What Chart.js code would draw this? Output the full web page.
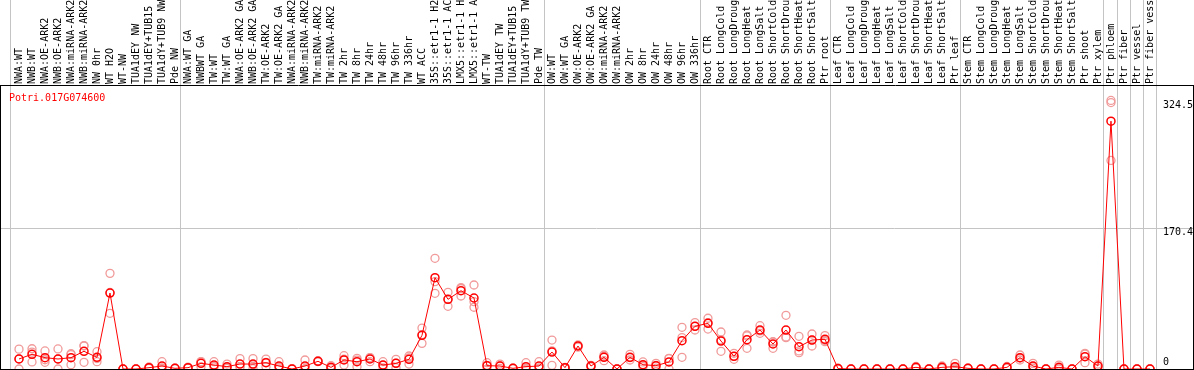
<!DOCTYPE html>
<html>
<head>
<meta charset="utf-8">
<script src="https://cdn.jsdelivr.net/npm/chart.js@4/dist/chart.umd.min.js"></script>
<style>
  html, body { margin: 0; padding: 0; background: #fff; }
  #wrap { width: 1194px; height: 370px; }
</style>
</head>
<body>
<div id="wrap"><canvas id="expr"></canvas></div>
<script>
// expression profile, mean + replicates per sample
const geneName = 'Potri.017G074600';

const categories = [
  'NWA:WT', 'NWB:WT', 'NWA:OE-ARK2', 'NWB:OE-ARK2', 'NWA:miRNA-ARK2', 'NWB:miRNA-ARK2', 'NW 0hr', 'WT H2O', 'WT-NW',
  'TUA1dEY NW', 'TUA1dEY+TUB15', 'TUA1dY+TUB9 NW', 'Pde NW',
  'NWA:WT GA', 'NWBWT GA', 'TW:WT', 'TW:WT GA', 'NWA:OE-ARK2 GA', 'NWB:OE-ARK2 GA', 'TW:OE-ARK2', 'TW:OE-ARK2 GA',
  'NWA:miRNA-ARK2', 'NWB:miRNA-ARK2', 'TW:miRNA-ARK2', 'TW:miRNA-ARK2', 'TW 2hr', 'TW 8hr', 'TW 24hr', 'TW 48hr',
  'TW 96hr', 'TW 336hr', 'WT ACC', '35S::etr1-1 H2O', '35S::etr1-1 ACC', 'LMX5::etr1-1 H2O', 'LMX5::etr1-1 ACC',
  'WT-TW', 'TUA1dEY TW', 'TUA1dEY+TUB15', 'TUA1dY+TUB9 TW', 'Pde TW',
  'OW:WT', 'OW:WT GA', 'OW:OE-ARK2', 'OW:OE-ARK2 GA', 'OW:miRNA-ARK2', 'OW:miRNA-ARK2', 'OW 2hr', 'OW 8hr',
  'OW 24hr', 'OW 48hr', 'OW 96hr', 'OW 336hr',
  'Root CTR', 'Root LongCold', 'Root LongDrought', 'Root LongHeat', 'Root LongSalt', 'Root ShortCold',
  'Root ShortDrought', 'Root ShortHeat', 'Root ShortSalt', 'Ptr root',
  'Leaf CTR', 'Leaf LongCold', 'Leaf LongDrought', 'Leaf LongHeat', 'Leaf LongSalt', 'Leaf ShortCold',
  'Leaf ShortDrought', 'Leaf ShortHeat', 'Leaf ShortSalt', 'Ptr leaf',
  'Stem CTR', 'Stem LongCold', 'Stem LongDrought', 'Stem LongHeat', 'Stem LongSalt', 'Stem ShortCold',
  'Stem ShortDrought', 'Stem ShortHeat', 'Stem ShortSalt', 'Ptr shoot', 'Ptr xylem',
  'Ptr phloem', 'Ptr fiber', 'Ptr vessel', 'Ptr fiber vessel'
];

const meanValues = [
  12.1, 17.8, 13.7, 12.1, 13.7, 21.4, 14.1, 91.8, 0, 0, 1.6, 3.6, 0.8,
  1.6, 6.8, 4.8, 2.8, 6.0, 6.0, 7.6, 3.6, 0, 3.6, 9.3, 2.0, 10.9, 8.8, 12.1, 4.8, 6.8, 11.7, 40.7,
  110.3, 84.2, 94.6, 85.8, 4.0, 3.6, 0.8, 2.8, 3.6,
  20.5, 1.6, 27.8, 3.6, 14.1, 0, 14.1, 5.2, 4.0, 8.5, 34.2, 51.6,
  55.2, 33.8, 15.3, 35.4, 47.1, 30.2, 47.1, 27.0, 35.0, 35.9,
  0.5, 0, 0, 0, 0, 0, 2.0, 0, 2.0, 2.8,
  0.8, 0, 0, 2.0, 13.7, 3.6, 0, 2.0, 0, 14.9, 3.6,
  299.5, 0, 0, 0
];

const rep1 = [
  24, 24.5, 21.8, 24.2, 18.5, 27.8, 20.9, 115.6, 0, 0, 2.5, 8.8, 1.2,
  2.2, 8.8, 8.8, 6.0, 12.5, 12.5, 12, 8.8, 0.5, 10.9, 10, 4, 16.1, 12.9, 13.7, 8.8, 11.7, 15.7, 49.5,
  133.8, 92.7, 98.3, 101.5, 7.6, 6, 1.2, 7.6, 8.8,
  35, 2, 29, 4.5, 16.9, 0, 17.7, 8.5, 6.8, 12.9, 50.4, 56,
  61.3, 44.7, 19, 41.1, 52.3, 33, 64.9, 39.5, 42.3, 40.3,
  1, 0, 0, 0, 0, 0, 3, 0, 3.6, 6.8,
  1.2, 0, 0, 3, 16.9, 6.8, 0, 4.8, 0, 19, 6,
  324.5, 0, 0, 0
];

const rep2 = [
  12.3, 20.4, 11.2, 12.1, 17.4, 28.3, 12.6, 92.5, 0, 0, 1.5, 1.2, 0.8,
  1.5, 8.9, 2.9, 1.6, 2.8, 5, 8, 2, 0, 0, 9, 1.5, 11.8, 10.7, 13.8, 4.4, 7.1, 13.4, 41.6,
  105.6, 84.1, 97.3, 81.3, 4.4, 4, 0.8, 0.8, 1,
  22, 1.5, 28, 3.6, 15.4, 0, 13.7, 4.3, 4.2, 12.6, 38, 51.6,
  56, 35.3, 15.2, 40, 46, 32.6, 38.7, 21.8, 35, 34.4,
  0.5, 0, 0, 0, 0, 0, 2, 0, 1.5, 1.6,
  0.8, 0, 0, 2, 13.3, 3, 0, 1.2, 0, 18, 3.8,
  322, 0, 0, 0
];

const rep3 = [
  0, 8.5, 8.1, 0, 5.2, 8.1, 8.8, 67.3, 0, 0, 0.8, 0.8, 0.4,
  1.1, 2.8, 2.8, 0.8, 2.8, 0.5, 2.8, 0, 0, 0, 9, 0.5, 4.8, 2.8, 8.8, 1.2, 1.6, 6, 31,
  91.5, 75.8, 88.2, 74.6, 0, 0.8, 0.4, 0, 1,
  4.4, 1.2, 26.4, 2.7, 10, 0, 10.9, 2.8, 1, 0, 14.1, 47.1,
  48.3, 21.4, 11.7, 25, 43.1, 25, 37.8, 19.7, 27.8, 33,
  0, 0, 0, 0, 0, 0, 1, 0, 0.9, 0,
  0.4, 0, 0, 1, 10.9, 1, 0, 0, 0, 7.6, 1,
  252, 0, 0, 0
];

// value labels on the right and the one grid line
const yTickValues = [0, 170.4, 324.5];
const gridValues = [170.4];
// where the grey group separators fall (in category units)
const groupLines = [-0.7, 12.4, 40.4, 52.4, 62.4, 72.4, 83.4, 84.45, 85.45, 86.45, 87.45];

const FONT = 'DejaVu Sans Mono';

const meanPoints = meanValues.map((v, i) => ({ x: i, y: v }));
const repPoints = [];
[rep1, rep2, rep3].forEach(rep => rep.forEach((v, i) => repPoints.push({ x: i, y: v })));

const decor = {
  id: 'decor',
  beforeDatasetsDraw(chart) {
    const { ctx, chartArea: a, scales: { x, y } } = chart;
    ctx.save();
    ctx.lineWidth = 1;
    ctx.strokeStyle = '#c4c4c4';
    groupLines.forEach(g => {
      const px = Math.round(x.getPixelForValue(g)) + 0.5;
      ctx.beginPath();
      ctx.moveTo(px, 0);
      ctx.lineTo(px, chart.height);
      ctx.stroke();
    });
    gridValues.forEach(g => {
      const py = Math.round(y.getPixelForValue(g)) + 0.5;
      ctx.beginPath();
      ctx.moveTo(a.left, py);
      ctx.lineTo(a.right, py);
      ctx.stroke();
    });
    // frame
    ctx.strokeStyle = '#000';
    ctx.beginPath();
    ctx.moveTo(0, 85.5); ctx.lineTo(chart.width, 85.5);
    ctx.moveTo(0.5, 85); ctx.lineTo(0.5, chart.height);
    ctx.moveTo(1193.5, 85); ctx.lineTo(1193.5, chart.height);
    ctx.moveTo(0, 369.5); ctx.lineTo(chart.width, 369.5);
    ctx.stroke();

    // value labels
    ctx.fillStyle = '#000';
    ctx.font = '10px ' + FONT;
    ctx.textAlign = 'left';
    ctx.textBaseline = 'middle';
    yTickValues.forEach(v => {
      const py = Math.min(y.getPixelForValue(v) + 4.5, a.bottom - 7);
      ctx.fillText(String(v), 1163, py);
    });

    ctx.fillStyle = '#ff0000';
    ctx.fillText(geneName, 9, 98);
    ctx.restore();
  }
};

new Chart(document.getElementById('expr'), {
  type: 'line',
  data: {
    datasets: [
      {
        label: 'mean',
        data: meanPoints,
        borderColor: '#ff0000',
        borderWidth: 1,
        pointRadius: 4,
        pointBorderWidth: 1.5,
        pointBorderColor: '#ff0000',
        pointBackgroundColor: 'rgba(0,0,0,0)',
        tension: 0,
        order: 1
      },
      {
        type: 'scatter',
        label: 'replicates',
        data: repPoints,
        showLine: false,
        pointRadius: 4,
        pointBorderWidth: 1.3,
        pointBorderColor: '#f19a9a',
        pointBackgroundColor: 'rgba(0,0,0,0)',
        order: 2
      }
    ]
  },
  options: {
    responsive: true,
    maintainAspectRatio: false,
    animation: false,
    layout: { autoPadding: false, padding: { left: 0, top: 0, right: 1, bottom: 1 } },
    plugins: {
      legend: { display: false },
      tooltip: { enabled: false },
      title: { display: false }
    },
    scales: {
      x: {
        type: 'linear',
        position: 'top',
        min: -1.4615,
        max: 90.31,
        grid: { display: false, drawTicks: false },
        border: { display: false },
        afterBuildTicks: scale => {
          scale.ticks = categories.map((c, i) => ({ value: i }));
        },
        afterFit: scale => {
          scale.height = 85;
          scale.paddingLeft = 0;
          scale.paddingRight = 0;
        },
        ticks: {
          autoSkip: false,
          minRotation: 90,
          maxRotation: 90,
          padding: 1,
          labelOffset: 12,
          color: '#000',
          font: { family: FONT, size: 10 },
          callback: v => categories[v]
        }
      },
      y: {
        display: false,
        min: 0,
        max: 343.2
      }
    }
  },
  plugins: [decor]
});
</script>
</body>
</html>
